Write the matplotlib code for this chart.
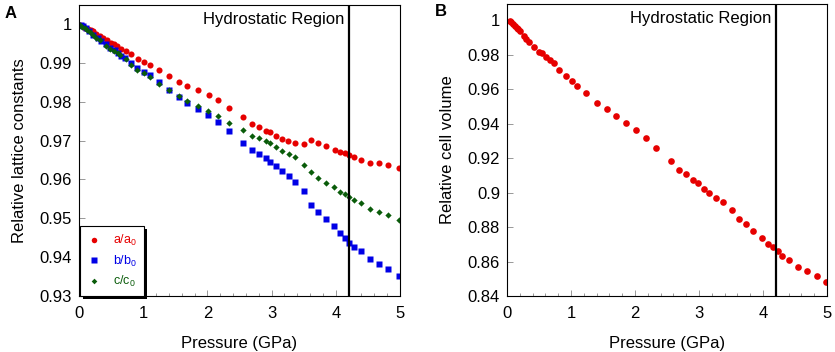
import matplotlib
matplotlib.use("Agg")
import matplotlib.pyplot as plt
from matplotlib.ticker import MultipleLocator, FixedLocator
import matplotlib.patheffects as pe

plt.rcParams['font.family'] = ['Liberation Sans', 'DejaVu Sans']
plt.rcParams['mathtext.fontset'] = 'custom'
plt.rcParams['mathtext.rm'] = 'Liberation Sans'

# ---------------- Data ----------------
p_a = [0.02, 0.06, 0.10, 0.14, 0.18, 0.22, 0.27, 0.32, 0.375, 0.43, 0.505, 0.54, 0.59, 0.66, 0.73,
       0.81, 0.92, 1.02, 1.10, 1.245, 1.40, 1.56, 1.69, 1.85, 2.02, 2.17, 2.33, 2.55, 2.69, 2.80,
       2.91, 2.97, 3.07, 3.16, 3.26, 3.37, 3.50, 3.62, 3.72, 3.84, 3.98, 4.06, 4.15, 4.21, 4.29,
       4.40, 4.54, 4.68, 4.82, 4.99]
a_rel = [0.9997, 0.9995, 0.9991, 0.9988, 0.9985, 0.9981, 0.9975, 0.9969, 0.9965, 0.9958, 0.9950,
         0.9949, 0.9943, 0.9937, 0.9931, 0.9922, 0.9911, 0.9903, 0.9895, 0.9881, 0.9865, 0.9852,
         0.9841, 0.9830, 0.9817, 0.9804, 0.9785, 0.9761, 0.9743, 0.9735, 0.9725, 0.9721, 0.9711,
         0.9705, 0.9699, 0.9693, 0.9690, 0.9701, 0.9695, 0.9686, 0.9675, 0.9670, 0.9667, 0.9662,
         0.9657, 0.9649, 0.9643, 0.9643, 0.9636, 0.9630]

p_b = [0.036, 0.07, 0.11, 0.16, 0.22, 0.30, 0.35, 0.42, 0.49, 0.56, 0.61, 0.66, 0.71, 0.81, 0.91,
       1.02, 1.10, 1.245, 1.40, 1.56, 1.69, 1.85, 2.01, 2.17, 2.33, 2.55, 2.69, 2.80, 2.91, 2.97,
       3.07, 3.16, 3.27, 3.37, 3.50, 3.62, 3.72, 3.84, 3.97, 4.06, 4.14, 4.21, 4.29, 4.40, 4.54,
       4.68, 4.82, 4.99]
b_rel = [0.9997, 0.9995, 0.9989, 0.9983, 0.9973, 0.9963, 0.9957, 0.9948, 0.9939, 0.9933, 0.9926,
         0.9918, 0.9912, 0.9900, 0.9888, 0.9876, 0.9868, 0.9851, 0.9830, 0.9813, 0.9798, 0.9782,
         0.9766, 0.9748, 0.9725, 0.9695, 0.9676, 0.9666, 0.9654, 0.9644, 0.9634, 0.9623, 0.9609,
         0.9593, 0.9570, 0.9533, 0.9516, 0.9498, 0.9480, 0.9461, 0.9449, 0.9436, 0.9425, 0.9415,
         0.9396, 0.9382, 0.9370, 0.9351]

p_c = [0.02, 0.05, 0.09, 0.125, 0.17, 0.22, 0.27, 0.32, 0.42, 0.49, 0.545, 0.60, 0.635, 0.73, 0.81,
       0.91, 1.02, 1.10, 1.245, 1.40, 1.56, 1.69, 1.85, 2.01, 2.17, 2.33, 2.55, 2.69, 2.80, 2.91,
       2.97, 3.07, 3.16, 3.27, 3.37, 3.50, 3.62, 3.72, 3.84, 3.97, 4.06, 4.14, 4.21, 4.29, 4.40,
       4.54, 4.68, 4.82, 4.99]
c_rel = [0.9997, 0.9993, 0.9989, 0.9985, 0.9979, 0.9973, 0.9965, 0.9959, 0.9943, 0.9935, 0.9931,
         0.9925, 0.9920, 0.9909, 0.9894, 0.9882, 0.9873, 0.9864, 0.9846, 0.9830, 0.9815, 0.9803,
         0.9789, 0.9776, 0.9763, 0.9746, 0.9727, 0.9712, 0.9707, 0.9698, 0.9693, 0.9684, 0.9674,
         0.9665, 0.9659, 0.9637, 0.9618, 0.9605, 0.9592, 0.9580, 0.9568, 0.9563, 0.9556, 0.9547,
         0.9539, 0.9523, 0.9516, 0.9508, 0.9496]

p_v = [0.04, 0.07, 0.09, 0.12, 0.15, 0.17, 0.20, 0.26, 0.30, 0.35, 0.42, 0.50, 0.54, 0.61, 0.67,
       0.73, 0.81, 0.92, 1.01, 1.10, 1.24, 1.40, 1.56, 1.70, 1.86, 2.01, 2.17, 2.33, 2.56, 2.69,
       2.80, 2.90, 2.98, 3.08, 3.16, 3.26, 3.37, 3.51, 3.63, 3.73, 3.85, 3.98, 4.08, 4.15, 4.23,
       4.30, 4.40, 4.55, 4.69, 4.84, 4.99]
v_rel = [0.9998, 0.9990, 0.9980, 0.9969, 0.9957, 0.9950, 0.9938, 0.9907, 0.9892, 0.9874, 0.9847,
         0.9818, 0.9810, 0.9785, 0.9768, 0.9750, 0.9711, 0.9675, 0.9647, 0.9620, 0.9576, 0.9523,
         0.9483, 0.9446, 0.9403, 0.9361, 0.9318, 0.9260, 0.9184, 0.9130, 0.9107, 0.9074, 0.9055,
         0.9024, 0.9000, 0.8971, 0.8944, 0.8898, 0.8849, 0.8816, 0.8778, 0.8739, 0.8704, 0.8683,
         0.8660, 0.8634, 0.8611, 0.8567, 0.8547, 0.8518, 0.8483]

labels_a = [r'a/a$_\mathregular{0}$', r'b/b$_\mathregular{0}$', r'c/c$_\mathregular{0}$']
hydro_p = 4.2
xticks = [0, 1, 2, 3, 4, 5]
yticks_a = [0.93, 0.94, 0.95, 0.96, 0.97, 0.98, 0.99, 1.0]
yticks_b = [0.84, 0.86, 0.88, 0.90, 0.92, 0.94, 0.96, 0.98, 1.0]

RED = '#e60000'
BLUE = '#0000e6'
GREEN = '#0a5c0a'
FS = 12

fig = plt.figure(figsize=(8.35, 3.52), dpi=100)
axA = fig.add_axes([79/835, 56/352, 321/835, 291/352])
axB = fig.add_axes([507/835, 56/352, 320/835, 292/352])

def fmt(v):
    s = f'{v:.2f}'.rstrip('0').rstrip('.')
    return s

def style(ax, yticks):
    ax.set_xlim(0, 5)
    ax.xaxis.set_major_locator(FixedLocator(xticks))
    ax.xaxis.set_minor_locator(MultipleLocator(0.2))
    ax.set_yticks(yticks)
    ax.set_yticklabels([fmt(v) for v in yticks])
    ax.set_xticklabels([str(v) for v in xticks])
    ax.tick_params(axis='both', which='major', direction='in', length=4, width=0.6,
                   color='#888888', labelsize=FS, top=False, right=False)
    ax.tick_params(axis='x', which='minor', direction='in', length=2.5, width=0.6, color='#888888')
    ax.tick_params(axis='x', pad=7)
    ax.tick_params(axis='y', pad=5)
    for s in ax.spines.values():
        s.set_linewidth(0.8)
    ax.axvline(hydro_p, color='black', lw=1.6)
    ax.annotate('Hydrostatic Region', xy=(hydro_p, 1.0), xycoords=('data', 'axes fraction'),
                xytext=(-3, -5), textcoords='offset points', ha='right', va='top', fontsize=FS)
    ax.set_xlabel('Pressure (GPa)', fontsize=FS, labelpad=11)

# Panel A
axA.plot(p_a, a_rel, 'o', color=RED, ms=4.4, mec='none', label=labels_a[0])
axA.plot(p_b, b_rel, 's', color=BLUE, ms=4.4, mec='none', label=labels_a[1])
axA.plot(p_c, c_rel, 'D', color=GREEN, ms=3.2, mec='none', label=labels_a[2])
axA.set_ylim(0.93, 1.0049)
style(axA, yticks_a)
axA.set_ylabel('Relative lattice constants', fontsize=FS, labelpad=9)
leg = axA.legend(loc='lower left', bbox_to_anchor=(0.003, 0.0), frameon=True, fancybox=False,
                 framealpha=1.0, fontsize=9, handletextpad=0.9, borderpad=0.55, labelspacing=0.42,
                 handlelength=1.2, borderaxespad=0.0, markerscale=0.9)
leg.get_frame().set_edgecolor('black')
leg.get_frame().set_linewidth(0.8)
leg.get_frame().set_path_effects([pe.SimplePatchShadow(offset=(2, -2), shadow_rgbFace='black', alpha=1.0),
                                  pe.Normal()])
for txt, col in zip(leg.get_texts(), [RED, BLUE, GREEN]):
    txt.set_color(col)

# Panel B
axB.plot(p_v, v_rel, 'o', color=RED, ms=4.8, mec='none')
axB.set_ylim(0.84, 1.0095)
style(axB, yticks_b)
axB.set_ylabel('Relative cell volume', fontsize=FS, labelpad=9)

fig.text(5/835, 1 - 14/352, 'A', fontsize=12, fontweight='bold', ha='left', va='center')
fig.text(435/835, 1 - 12/352, 'B', fontsize=12, fontweight='bold', ha='left', va='center')

fig.savefig('out.png', dpi=100)
